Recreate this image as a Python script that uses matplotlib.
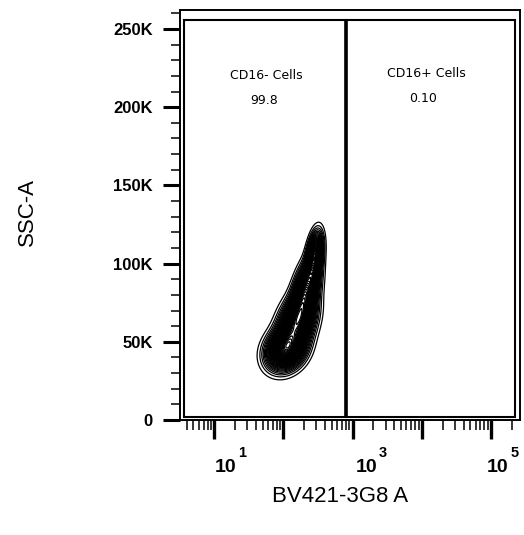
import numpy as np
import matplotlib
matplotlib.use("Agg")
import matplotlib.pyplot as plt
from matplotlib.patches import Rectangle
from matplotlib.ticker import FixedLocator, NullFormatter

# ---------------- data ----------------
x_label = "BV421-3G8 A"
y_label = "SSC-A"
x_limits = [3.2, 262144]
y_limits = [0, 262144]
y_tick_values = [0, 50000, 100000, 150000, 200000, 250000]
y_tick_labels = ["0", "50K", "100K", "150K", "200K", "250K"]
x_tick_values = [1e1, 1e2, 1e3, 1e4, 1e5]
x_labeled_ticks = [1e1, 1e3, 1e5]

gate_names = ["CD16- Cells", "CD16+ Cells"]
gate_freqs = ["99.8", "0.10"]
gate_x_bounds = [[3.66, 815], [815, 222000]]
gate_y_bounds = [1900, 255700]

# population components (log10 x centre, y centre, sd log x, sd y, correlation, weight)
pop_logx = [2.03, 2.19, 2.32, 2.45]
pop_y = [45000, 62000, 82000, 105000]
pop_sd_logx = [0.16, 0.15, 0.11, 0.065]
pop_sd_y = [7500, 10000, 11000, 8500]
pop_corr = [0.20, 0.35, 0.45, 0.35]
pop_weight = [1.0, 0.95, 0.9, 0.9]

# ---------------- figure ----------------
fig = plt.figure(figsize=(5.24, 5.35), dpi=100)
ax = fig.add_axes([180/524, 1-420/535, 340/524, 410/535])
ax.set_xscale("log")
ax.set_xlim(*x_limits)
ax.set_ylim(*y_limits)

# density in (log x, y)
lx = np.linspace(np.log10(x_limits[0]), np.log10(x_limits[1]), 700)
yy = np.linspace(y_limits[0], y_limits[1], 700)
LX, YY = np.meshgrid(lx, yy)
Z = np.zeros_like(LX)
for mx, my, sx, sy, r, w in zip(pop_logx, pop_y, pop_sd_logx, pop_sd_y, pop_corr, pop_weight):
    dx = (LX - mx) / sx
    dy = (YY - my) / sy
    q = (dx**2 - 2*r*dx*dy + dy**2) / (1 - r**2)
    Z += w * np.exp(-0.5*q)
levels = np.linspace(0.03, 0.985, 38) * Z.max()
ax.contour(10**LX, YY, Z, levels=levels, colors="black", linewidths=0.9)

# gates
for (x0, x1) in gate_x_bounds:
    ax.add_patch(Rectangle((x0, gate_y_bounds[0]), x1-x0, gate_y_bounds[1]-gate_y_bounds[0],
                           fill=False, edgecolor="black", linewidth=1.5, zorder=3))
ax.plot([gate_x_bounds[0][1]]*2, gate_y_bounds, color="black", linewidth=2.6, zorder=4,
        solid_capstyle="butt")

# gate labels
name_pos = [(0.253, 0.841), (0.724, 0.846)]
freq_pos = [(0.247, 0.780), (0.715, 0.783)]
for name, freq, npos, fpos in zip(gate_names, gate_freqs, name_pos, freq_pos):
    ax.text(*npos, name, transform=ax.transAxes, ha="center", va="center",
            fontsize=9, family="DejaVu Sans", color="black")
    ax.text(*fpos, freq, transform=ax.transAxes, ha="center", va="center",
            fontsize=9, family="DejaVu Sans", color="black")

# spines
for s in ax.spines.values():
    s.set_linewidth(1.4)

# ticks
ax.yaxis.set_major_locator(FixedLocator(y_tick_values))
ax.yaxis.set_minor_locator(FixedLocator(np.arange(0, 262144, 10000)))
ax.set_yticklabels(y_tick_labels, fontsize=12, fontweight="bold", family="Liberation Sans")
ax.xaxis.set_major_locator(FixedLocator(x_tick_values))
minors = [m*10**d for d in range(0, 6) for m in range(2, 10)]
ax.xaxis.set_minor_locator(FixedLocator(minors))
ax.xaxis.set_minor_formatter(NullFormatter())
ax.set_xticklabels([""]*len(x_tick_values))
ax.tick_params(axis="y", which="major", direction="out", length=12.5, width=2.2, pad=7)
ax.tick_params(axis="y", which="minor", direction="out", length=6.5, width=1.1)
ax.tick_params(axis="x", which="major", direction="out", length=14, width=2.4, pad=1)
ax.tick_params(axis="x", which="minor", direction="out", length=7, width=1.1)
ax.tick_params(top=False, right=False)

# decade labels: "10" with raised exponent
label_shift = [0.5, 2.0, -3.0]
for v, sh in zip(x_labeled_ticks, label_shift):
    e = str(int(round(np.log10(v))))
    ax.annotate("10", xy=(v, 0), xycoords=("data", "axes fraction"),
                xytext=(sh, -37.4), textcoords="offset points",
                ha="left", va="baseline", fontsize=14, fontweight="bold",
                family="Liberation Sans", annotation_clip=False)
    ax.annotate(e, xy=(v, 0), xycoords=("data", "axes fraction"),
                xytext=(sh + 16.8, -26.8), textcoords="offset points",
                ha="left", va="baseline", fontsize=10.5, fontweight="bold",
                family="Liberation Sans", annotation_clip=False)

fig.text(27/524, 1-212/535, y_label, rotation=90, ha="center", va="center",
         fontsize=16, family="Liberation Sans")
fig.text(340/524, 1-497/535, x_label, ha="center", va="center",
         fontsize=16, family="Liberation Sans")

fig.savefig("out.png", dpi=100)
